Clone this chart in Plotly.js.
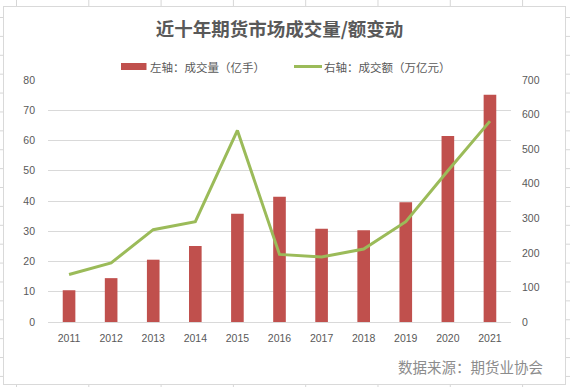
<!DOCTYPE html>
<html>
<head>
<meta charset="utf-8">
<script src="https://cdn.plot.ly/plotly-3.0.1.min.js"></script>
<style>
html,body{margin:0;padding:0;}
body{width:570px;height:387px;overflow:hidden;position:relative;background-color:#fff;
background-image:linear-gradient(to right,#d6d6d6 1px,transparent 1px),linear-gradient(to bottom,#d6d6d6 1px,transparent 1px);
background-size:72.3px 18.9px;background-position:16px 17px;}
#box{position:absolute;left:3px;top:6px;width:563px;height:379px;box-sizing:border-box;border:1px solid #d9d9d9;background:#fff;}
#chart{position:absolute;left:0;top:0;width:570px;height:387px;}
</style>
</head>
<body>
<div id="box"></div>
<div id="chart"></div>
<script>
const years = ['2011','2012','2013','2014','2015','2016','2017','2018','2019','2020','2021'];
const volume = [10.5,14.5,20.6,25.1,35.8,41.4,30.8,30.3,39.6,61.5,75.1];     // 成交量（亿手）
const turnover = [137.5,171,267,290,554,195.6,188,211,290,437.5,581];       // 成交额（万亿元）
const titleText = '近十年期货市场成交量/额变动';
const legendLeft = '左轴：成交量（亿手）';
const legendRight = '右轴：成交额（万亿元）';
const sourceText = '数据来源：期货业协会';

const W = 570, H = 387;
const L = 48, R = 511, T = 80, B = 322.3;
const px = x => (x - L) / (R - L);
const py = y => (B - y) / (B - T);

const tickFont = {family:'"Liberation Sans", Arial, sans-serif', size:10.5, color:'#595959'};
const cjk = '"Noto Sans CJK SC", "Noto Sans", sans-serif';

const traces = [
  {type:'bar', x:years, y:volume, name:legendLeft, marker:{color:'#c0504d'}, yaxis:'y'},
  {type:'scatter', mode:'lines', x:years, y:turnover, name:legendRight,
   line:{color:'#9bbb59', width:3}, yaxis:'y2'}
];

const layout = {
  width:W, height:H,
  margin:{l:L, r:W-R, t:T, b:H-B, pad:0},
  paper_bgcolor:'rgba(0,0,0,0)', plot_bgcolor:'rgba(0,0,0,0)',
  showlegend:false,
  bargap:0.7,
  title:{text:'<b>'+titleText+'</b>', font:{family:cjk, size:18.5, color:'#595959'},
         x:0.5, xref:'paper', xanchor:'center', y:1-30/H, yanchor:'middle'},
  xaxis:{type:'category', tickfont:tickFont, showgrid:false, showline:true, linecolor:'#d9d9d9',
         linewidth:1, ticks:'', ticklabelstandoff:6, zeroline:false, fixedrange:true},
  yaxis:{range:[0,80], dtick:10, tickfont:tickFont, gridcolor:'#d9d9d9', gridwidth:1,
         zeroline:false, showline:false, ticks:'', ticklabelstandoff:12, fixedrange:true},
  yaxis2:{range:[0,700], dtick:100, overlaying:'y', side:'right', tickfont:tickFont,
          showgrid:false, zeroline:false, showline:false, ticks:'', ticklabelstandoff:10, fixedrange:true},
  shapes:[
    {type:'rect', xref:'paper', yref:'paper', x0:px(121), x1:px(146.5), y0:py(70), y1:py(63),
     fillcolor:'#c0504d', line:{width:0}},
    {type:'line', xref:'paper', yref:'paper', x0:px(294), x1:px(322), y0:py(66.5), y1:py(66.5),
     line:{color:'#9bbb59', width:3}}
  ],
  annotations:[
    {text:legendLeft, xref:'paper', yref:'paper', x:px(148), y:py(66.5), xanchor:'left', yanchor:'middle',
     showarrow:false, font:{family:cjk, size:11.5, color:'#595959'}},
    {text:legendRight, xref:'paper', yref:'paper', x:px(322), y:py(66.5), xanchor:'left', yanchor:'middle',
     showarrow:false, font:{family:cjk, size:11.5, color:'#595959'}},
    {text:sourceText, xref:'paper', yref:'paper', x:px(545), y:py(367), xanchor:'right', yanchor:'middle',
     showarrow:false, font:{family:cjk, size:14.5, color:'#8c8c8c'}}
  ]
};

Plotly.newPlot('chart', traces, layout, {staticPlot:true, displayModeBar:false});
</script>
</body>
</html>
